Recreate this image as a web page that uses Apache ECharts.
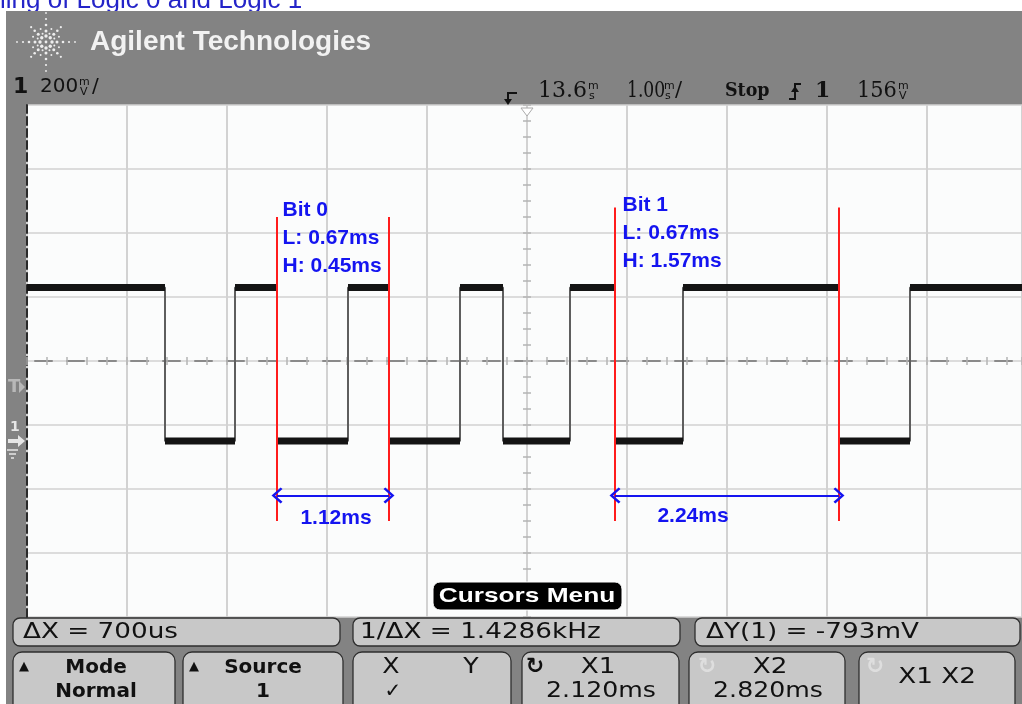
<!DOCTYPE html>
<html><head><meta charset="utf-8">
<script src="https://cdn.jsdelivr.net/npm/echarts@6/dist/echarts.min.js"></script>
<style>html,body{margin:0;padding:0;background:#fff;overflow:hidden}#c{width:1022px;height:704px}</style>
</head><body><div id="c"></div>
<script>
// ---------------- data ----------------
const pageTitle = 'ling of Logic 0 and Logic 1';
const brandName = 'Agilent Technologies';
const screenTimeMs = [8.6, 18.55];     // 13.6 ms centre, 1.00 ms/div (right edge cropped)
const screenVoltMv = [-550, 1050];     // 8 div of 200 mV
const timePerDivMs = 1;
const voltPerDivMv = 200;
const edgeTimesMs = [9.98, 10.68, 11.10, 11.81, 12.22, 12.93, 13.36, 14.03, 14.48, 15.16, 16.72, 17.43];
const levelMv = [480, 0, 480, 0, 480, 0, 480, 0, 480, 0, 480, 0, 480];
const bitNames = ['Bit 0', 'Bit 1'];
const bitLowText = ['0.67ms', '0.67ms'];
const bitHighText = ['0.45ms', '1.57ms'];
const bitPeriodText = ['1.12ms', '2.24ms'];
const bitStartMs = [11.10, 14.48];
const bitEndMs = [12.22, 16.72];
const statusChannel = ['1', '200'];
const statusTime = ['13.6', '1.00', 'Stop', '1', '156'];
const readouts = ['\u0394X = 700us', '1/\u0394X = 1.4286kHz', '\u0394Y(1) = -793mV'];
const softkeyTop = ['Mode', 'Source', 'X', 'X1', 'X2', 'X1 X2'];
const softkeyBottom = ['Normal', '1', '\u2713', '2.120ms', '2.820ms', ''];
const menuTitle = 'Cursors Menu';

// annotation placement (data units)
const annot = {
  cursorTopMv: [700, 730], cursorBottomMv: [-250, -250],
  arrowMv: [-170, -170],
  textTimeMs: [11.16, 14.56], textTopMv: [762, 780],
  periodTimeMs: [11.69, 15.26], periodMv: [-240, -236]
};

// ---------------- series data ----------------
const bounds = [screenTimeMs[0], ...edgeTimesMs, screenTimeMs[1]];
const stepPts = [], levelPts = [];
levelMv.forEach((v, i) => {
  stepPts.push([bounds[i], v], [bounds[i + 1], v]);
  levelPts.push([bounds[i], v], [bounds[i + 1], v], [bounds[i + 1], null]);
});

const chevron = 'path://M0,10 L10,0 L20,10 L18,12 L10,4 L2,12 Z';
const blue = '#1414f0';

// ---------------- graphic overlay ----------------
const G = [];
function T(x, y, text, o) {
  o = o || {};
  G.push({
    type: 'text', x, y, z: o.z != null ? o.z : 100, silent: true,
    scaleX: o.sx || 1,
    style: {
      text, font: (o.w || 'normal') + ' ' + (o.s || 20) + "px '" + (o.f || 'DejaVu Sans') + "'",
      fill: o.c || '#111', align: o.a || 'left', verticalAlign: o.va || 'middle'
    }
  });
}
function R(x, y, w, h, r, fill, stroke, lw, z) {
  G.push({ type: 'rect', z: z != null ? z : 100, silent: true, shape: { x, y, width: w, height: h, r },
    style: { fill, stroke: stroke || null, lineWidth: lw || 0 } });
}
function P(points, fill, stroke, lw, closed) {
  G.push({ type: closed === false ? 'polyline' : 'polygon', z: 101, silent: true, shape: { points },
    style: { fill: fill || null, stroke: stroke || null, lineWidth: lw || 0 } });
}
function stack(x, yc, top, bot, c) {
  T(x, yc - 5, top, { s: 11, c: c || '#111' });
  T(x + 1, yc + 5, bot, { s: 11, c: c || '#111' });
}

// title (behind scope panel)
T(0, 14, pageTitle, { s: 26, f: 'Liberation Sans', c: '#2424c8', va: 'bottom', z: -20 });
// scope panel
R(6, 11, 1016, 693, 0, '#838383', null, 0, -10);

// logo
(function () {
  const cx = 46, cy = 42;
  for (let a = 0; a < 16; a++) {
    const ang = a * Math.PI / 8;
    const main = a % 2 === 0, diag = a % 4 === 2;
    const radii = main ? (diag ? [6, 11, 16, 21] : [6, 11, 17, 23, 29]) : [9, 14];
    radii.forEach((r, k) => G.push({ type: 'circle', z: 100, silent: true,
      shape: { cx: cx + r * Math.cos(ang), cy: cy + r * Math.sin(ang), r: main ? 1.7 - k * 0.2 : 1.0 },
      style: { fill: '#eeeeee' } }));
  }
  G.push({ type: 'circle', z: 100, shape: { cx, cy, r: 1.4 }, style: { fill: '#eeeeee' } });
})();
T(90, 42, brandName, { s: 28, w: 'bold', f: 'Liberation Sans', c: '#f2f2f2' });

// status line
T(13, 87, statusChannel[0], { s: 22, w: 'bold' });
T(40, 87, statusChannel[1], { s: 20 });
stack(79, 87, 'm', 'V');
T(92, 87, '/', { s: 20 });
// time reference marker
P([[517, 93], [508, 93], [508, 100]], null, '#111', 2, false);
P([[504, 99], [512, 99], [508, 105]], '#111');
T(538, 91, statusTime[0], { s: 22, f: 'DejaVu Serif' });
stack(588, 91, 'm', 's');
T(627, 91, statusTime[1], { s: 22, f: 'DejaVu Serif', sx: 0.78 });
stack(664, 91, 'm', 's');
T(675, 91, '/', { s: 21, f: 'DejaVu Serif' });
T(725, 91, statusTime[2], { s: 19, w: 'bold', f: 'DejaVu Serif', sx: 0.92 });
P([[789, 99], [795, 99], [795, 84], [801, 84]], null, '#111', 2, false);
P([[791, 92], [799, 92], [795, 86]], '#111');
T(815, 91, statusTime[3], { s: 22, w: 'bold', f: 'DejaVu Serif' });
T(857, 91, statusTime[4], { s: 22, f: 'DejaVu Serif', sx: 0.95 });
stack(898, 91, 'm', 'V');

// screen top trigger marker
P([[521, 108], [533, 108], [527, 116]], '#ffffff', '#aaaaaa', 1);
// left strip markers
T(8, 387, 'T', { s: 18, w: 'bold', c: '#b8b8b8' });
P([[19, 381], [19, 393], [25, 387]], '#b8b8b8');
T(10, 427, '1', { s: 14, w: 'bold', c: '#e6e6e6' });
P([[8, 439], [18, 439], [18, 435], [25, 441], [18, 447], [18, 443], [8, 443]], '#e6e6e6');
P([[7, 450], [18, 450]], null, '#e6e6e6', 1.5, false);
P([[9, 454], [16, 454]], null, '#e6e6e6', 1.5, false);
P([[11, 458], [14, 458]], null, '#e6e6e6', 1.5, false);

// cursors menu label
R(433, 582, 189, 28, 7, '#000', '#ffffff', 1);
T(527, 596, menuTitle, { s: 21, w: 'bold', f: 'Liberation Sans', c: '#ffffff', a: 'center', sx: 1.25 });

// softkeys
const keyFill = '#c8c8c8', keyStroke = '#2e2e2e';
[[13, 327], [353, 327], [695, 325]].forEach(([x, w]) => R(x, 618, w, 28, 7, keyFill, keyStroke, 1.3));
[[13, 162], [183, 160], [353, 158], [522, 157], [689, 156], [859, 156]].forEach(([x, w]) => R(x, 652, w, 62, 9, keyFill, keyStroke, 1.3));
T(23, 633, readouts[0], { s: 21, sx: 1.25 });
T(360, 633, readouts[1], { s: 21, sx: 1.25 });
T(706, 633, readouts[2], { s: 21, sx: 1.25 });
T(19, 667, '\u25B2', { s: 13 });
T(96, 668, softkeyTop[0], { s: 20, w: 'bold', a: 'center' });
T(96, 692, softkeyBottom[0], { s: 20, w: 'bold', a: 'center' });
T(189, 667, '\u25B2', { s: 13 });
T(263, 668, softkeyTop[1], { s: 20, w: 'bold', a: 'center' });
T(263, 692, softkeyBottom[1], { s: 20, w: 'bold', a: 'center' });
T(391, 668, softkeyTop[2], { s: 21, a: 'center', sx: 1.2 });
T(471, 668, 'Y', { s: 21, a: 'center', sx: 1.2 });
T(393, 692, softkeyBottom[2], { s: 20, a: 'center' });
T(535, 667, '\u21BB', { s: 22, w: 'bold', a: 'center' });
T(598, 668, softkeyTop[3], { s: 21, a: 'center', sx: 1.25 });
T(601, 692, softkeyBottom[3], { s: 21, a: 'center', sx: 1.2 });
T(707, 667, '\u21BB', { s: 22, w: 'bold', a: 'center', c: '#dedede' });
T(770, 668, softkeyTop[4], { s: 21, a: 'center', sx: 1.25 });
T(768, 692, softkeyBottom[4], { s: 21, a: 'center', sx: 1.2 });
T(875, 667, '\u21BB', { s: 22, w: 'bold', a: 'center', c: '#dedede' });
T(937, 678, softkeyTop[5], { s: 21, a: 'center', sx: 1.25 });

// ---------------- axes ----------------
function xAx(extra) {
  return Object.assign({ type: 'value', min: screenTimeMs[0], max: screenTimeMs[1], interval: timePerDivMs,
    position: 'bottom', axisLabel: { show: false }, splitLine: { show: false }, axisTick: { show: false } }, extra);
}
function yAx(extra) {
  return Object.assign({ type: 'value', min: screenVoltMv[0], max: screenVoltMv[1], interval: voltPerDivMv,
    position: 'left', axisLabel: { show: false }, splitLine: { show: false }, axisTick: { show: false } }, extra);
}
const tickStyle = { color: '#b4b4b4', width: 1.5 };

const option = {
  animation: false,
  grid: { left: 27, top: 105, width: 995, height: 512, show: true, backgroundColor: '#fbfcfc', borderWidth: 0 },
  xAxis: [
    xAx({ axisLine: { show: false, onZero: false }, splitLine: { show: true, lineStyle: { color: '#d2d2d2', width: 2 } } }),
    xAx({ offset: -256, axisLine: { show: true, onZero: false, lineStyle: { color: '#8a8a8a', width: 2, type: [17, 15], dashOffset: -8 } },
      axisTick: { show: true, length: 4, lineStyle: tickStyle }, minorTick: { show: true, splitNumber: 5, length: 4, lineStyle: tickStyle } }),
    xAx({ offset: -256, axisLine: { show: false, onZero: false },
      axisTick: { show: true, inside: true, length: 4, lineStyle: tickStyle }, minorTick: { show: true, splitNumber: 5, length: 4, lineStyle: tickStyle } })
  ],
  yAxis: [
    yAx({ axisLine: { show: true, onZero: false, lineStyle: { color: '#2a2a2a', width: 2, type: [8, 4] } },
      splitLine: { show: true, lineStyle: { color: '#d2d2d2', width: 1.5 } } }),
    yAx({ offset: -500, axisLine: { show: true, onZero: false, lineStyle: { color: '#d2d2d2', width: 2 } },
      axisTick: { show: true, length: 4, lineStyle: tickStyle }, minorTick: { show: true, splitNumber: 4, length: 4, lineStyle: tickStyle } }),
    yAx({ offset: -500, axisLine: { show: false, onZero: false },
      axisTick: { show: true, inside: true, length: 4, lineStyle: tickStyle }, minorTick: { show: true, splitNumber: 4, length: 4, lineStyle: tickStyle } })
  ],
  series: [
    { type: 'line', name: 'edges', data: stepPts, symbol: 'none', silent: true, z: 3,
      lineStyle: { color: '#5e5e5e', width: 2 } },
    { type: 'line', name: 'levels', data: levelPts, symbol: 'none', silent: true, z: 4, connectNulls: false,
      lineStyle: { color: '#141414', width: 7, cap: 'butt' } },
    { type: 'line', name: 'cursors', data: [], z: 5, silent: true,
      markLine: { silent: true, symbol: ['none', 'none'], label: { show: false },
        lineStyle: { color: '#ff1c1c', width: 2, type: 'solid' },
        data: bitStartMs.flatMap((s, i) => [
          [{ coord: [s, annot.cursorTopMv[i]] }, { coord: [s, annot.cursorBottomMv[i]] }],
          [{ coord: [bitEndMs[i], annot.cursorTopMv[i]] }, { coord: [bitEndMs[i], annot.cursorBottomMv[i]] }]
        ]) } },
    { type: 'line', name: 'spans', data: [], z: 6, silent: true,
      markLine: { silent: true, symbol: [chevron, chevron], symbolSize: [16, 11], label: { show: false },
        lineStyle: { color: blue, width: 2, type: 'solid' }, itemStyle: { color: blue },
        data: bitStartMs.map((s, i) => [{ coord: [s, annot.arrowMv[i]] }, { coord: [bitEndMs[i], annot.arrowMv[i]] }]) },
      markPoint: { silent: true, symbol: 'circle', symbolSize: 1, itemStyle: { color: 'rgba(0,0,0,0)' },
        label: { show: true, color: blue, fontFamily: 'Liberation Sans', fontWeight: 'bold', fontSize: 21, lineHeight: 28 },
        data: bitNames.map((n, i) => ({ coord: [annot.textTimeMs[i], annot.textTopMv[i]],
          label: { position: 'insideTopLeft', distance: 0, align: 'left', verticalAlign: 'top',
            formatter: n + '\nL: ' + bitLowText[i] + '\nH: ' + bitHighText[i] } }))
          .concat(bitPeriodText.map((p, i) => ({ coord: [annot.periodTimeMs[i], annot.periodMv[i]],
            label: { position: 'inside', formatter: p } }))) } }
  ],
  graphic: { elements: G }
};

const chart = echarts.init(document.getElementById('c'), null, { renderer: 'canvas', width: 1022, height: 704 });
chart.setOption(option);
</script>
</body></html>
